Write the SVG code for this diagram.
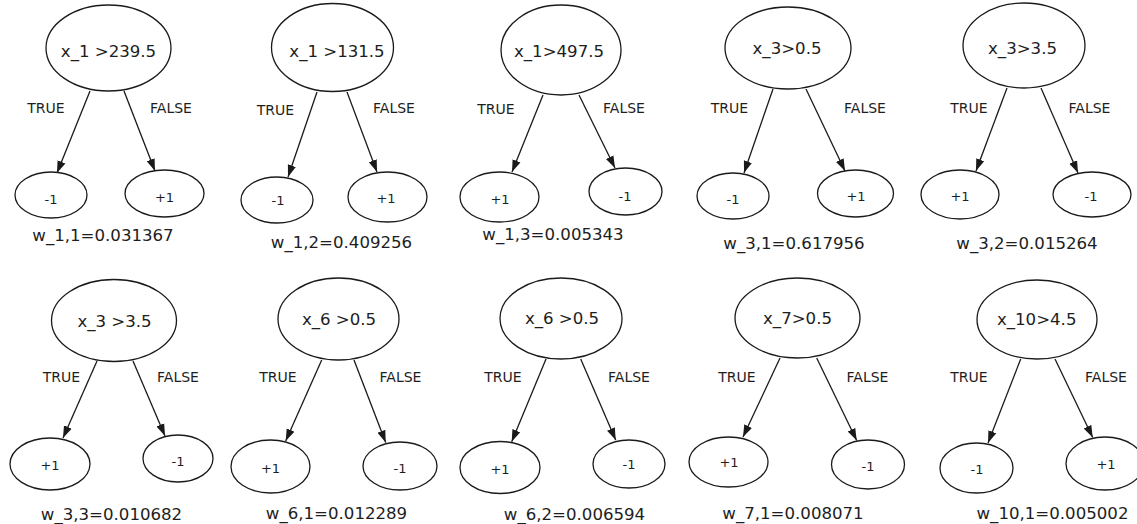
<svg xmlns="http://www.w3.org/2000/svg" width="1137" height="524" viewBox="0 0 1137 524">
<style>
text{font-family:"DejaVu Sans","Liberation Sans",sans-serif;fill:#1e1e1e;text-anchor:middle}
ellipse{fill:#fff;stroke:#1a1a1a;stroke-width:1.3}
.n{font-size:16.6px}
.l{font-size:13px}
.e{font-size:14px}
.w{font-size:16.6px}
#edges line{stroke:#1a1a1a;stroke-width:1.3;marker-end:url(#ah)}
</style>
<defs>
<marker id="ah" markerUnits="userSpaceOnUse" markerWidth="12" markerHeight="10" viewBox="0 0 12 10" refX="12" refY="5" orient="auto">
<path d="M0,0.8 L12,5 L0,9.2 Z" fill="#1a1a1a"/>
</marker>
</defs>
<g id="edges">
<line x1="90" y1="91" x2="57" y2="173"/>
<line x1="124" y1="91" x2="155" y2="171"/>
<line x1="317" y1="92" x2="288" y2="177"/>
<line x1="347" y1="92" x2="377" y2="172"/>
<line x1="543" y1="95" x2="512" y2="172"/>
<line x1="579" y1="95" x2="615" y2="168"/>
<line x1="773" y1="89" x2="744" y2="173"/>
<line x1="806" y1="89" x2="845" y2="171"/>
<line x1="1007" y1="88" x2="976" y2="171"/>
<line x1="1041" y1="88" x2="1078" y2="173"/>
<line x1="97" y1="361" x2="63" y2="438"/>
<line x1="133" y1="361" x2="165" y2="436"/>
<line x1="321.7" y1="360" x2="285.7" y2="441"/>
<line x1="354" y1="360" x2="385.7" y2="442.5"/>
<line x1="546" y1="359" x2="511.7" y2="441.7"/>
<line x1="580.7" y1="359" x2="615.7" y2="440"/>
<line x1="780" y1="358" x2="743" y2="437"/>
<line x1="816.7" y1="358" x2="856.7" y2="440.5"/>
<line x1="1020.7" y1="359" x2="988" y2="443"/>
<line x1="1055" y1="359" x2="1092.7" y2="437.5"/>
</g>
<g id="edge-labels">
<text class="e" x="46" y="113">TRUE</text><text class="e" x="171" y="113">FALSE</text>
<text class="e" x="275.5" y="115">TRUE</text><text class="e" x="394" y="113">FALSE</text>
<text class="e" x="496" y="114">TRUE</text><text class="e" x="624" y="113">FALSE</text>
<text class="e" x="729.5" y="113">TRUE</text><text class="e" x="865" y="113">FALSE</text>
<text class="e" x="969" y="113">TRUE</text><text class="e" x="1089.5" y="113">FALSE</text>
<text class="e" x="61.5" y="382">TRUE</text><text class="e" x="178" y="382">FALSE</text>
<text class="e" x="278" y="382">TRUE</text><text class="e" x="400.5" y="382">FALSE</text>
<text class="e" x="503" y="382">TRUE</text><text class="e" x="629" y="382">FALSE</text>
<text class="e" x="737" y="382">TRUE</text><text class="e" x="867.5" y="382">FALSE</text>
<text class="e" x="969" y="382">TRUE</text><text class="e" x="1106" y="382">FALSE</text>
</g>
<!-- Tree 1 -->
<g id="t1-root"><ellipse cx="108.5" cy="48" rx="62.5" ry="43"/><text class="n" x="108.5" y="57">x_1 &gt;239.5</text></g>
<g id="t1-true"><ellipse cx="51" cy="195" rx="36" ry="23"/><text class="l" x="51" y="204">-1</text></g>
<g id="t1-false"><ellipse cx="164.5" cy="193.5" rx="39.5" ry="23.5"/><text class="l" x="164.5" y="202">+1</text></g>
<g id="t1-weight"><text class="w" x="103" y="241">w_1,1=0.031367</text></g>
<!-- Tree 2 -->
<g id="t2-root"><ellipse cx="332.5" cy="47.5" rx="61" ry="44"/><text class="n" x="337" y="57">x_1 &gt;131.5</text></g>
<g id="t2-true"><ellipse cx="277" cy="200" rx="36" ry="23"/><text class="l" x="278" y="205">-1</text></g>
<g id="t2-false"><ellipse cx="387.5" cy="197" rx="39.5" ry="25"/><text class="l" x="386" y="203">+1</text></g>
<g id="t2-weight"><text class="w" x="341.5" y="248">w_1,2=0.409256</text></g>
<!-- Tree 3 -->
<g id="t3-root"><ellipse cx="561" cy="50" rx="60" ry="45"/><text class="n" x="559" y="57">x_1&gt;497.5</text></g>
<g id="t3-true"><ellipse cx="499.5" cy="197" rx="39.5" ry="25"/><text class="l" x="500" y="204">+1</text></g>
<g id="t3-false"><ellipse cx="625.5" cy="191.5" rx="36.5" ry="23.5"/><text class="l" x="625" y="201">-1</text></g>
<g id="t3-weight"><text class="w" x="553" y="240">w_1,3=0.005343</text></g>
<!-- Tree 4 -->
<g id="t4-root"><ellipse cx="788" cy="48" rx="63" ry="41"/><text class="n" x="787" y="54">x_3&gt;0.5</text></g>
<g id="t4-true"><ellipse cx="733" cy="196" rx="36" ry="23"/><text class="l" x="733" y="204">-1</text></g>
<g id="t4-false"><ellipse cx="855.5" cy="193.5" rx="38" ry="23.5"/><text class="l" x="856" y="201">+1</text></g>
<g id="t4-weight"><text class="w" x="794" y="249">w_3,1=0.617956</text></g>
<!-- Tree 5 -->
<g id="t5-root"><ellipse cx="1024" cy="45.5" rx="61" ry="42.5"/><text class="n" x="1022.5" y="54">x_3&gt;3.5</text></g>
<g id="t5-true"><ellipse cx="960" cy="194.5" rx="39" ry="24.5"/><text class="l" x="960" y="201">+1</text></g>
<g id="t5-false"><ellipse cx="1092" cy="194.5" rx="39" ry="22.5"/><text class="l" x="1091" y="201">-1</text></g>
<g id="t5-weight"><text class="w" x="1027" y="249">w_3,2=0.015264</text></g>
<!-- Tree 6 -->
<g id="t6-root"><ellipse cx="114" cy="320.5" rx="62.5" ry="41"/><text class="n" x="114.5" y="327">x_3 &gt;3.5</text></g>
<g id="t6-true"><ellipse cx="50" cy="464" rx="40" ry="26"/><text class="l" x="50" y="470">+1</text></g>
<g id="t6-false"><ellipse cx="178" cy="458.5" rx="35" ry="23.5"/><text class="l" x="178" y="466">-1</text></g>
<g id="t6-weight"><text class="w" x="111.5" y="520">w_3,3=0.010682</text></g>
<!-- Tree 7 -->
<g id="t7-root"><ellipse cx="338.5" cy="319" rx="60.5" ry="41"/><text class="n" x="339" y="325">x_6 &gt;0.5</text></g>
<g id="t7-true"><ellipse cx="270.5" cy="466.5" rx="39.5" ry="26.5"/><text class="l" x="270.5" y="473">+1</text></g>
<g id="t7-false"><ellipse cx="400" cy="466" rx="37" ry="24"/><text class="l" x="400" y="473">-1</text></g>
<g id="t7-weight"><text class="w" x="336.5" y="519">w_6,1=0.012289</text></g>
<!-- Tree 8 -->
<g id="t8-root"><ellipse cx="561" cy="318.5" rx="61" ry="40.5"/><text class="n" x="562" y="324">x_6 &gt;0.5</text></g>
<g id="t8-true"><ellipse cx="500" cy="467.5" rx="40" ry="26"/><text class="l" x="500" y="474">+1</text></g>
<g id="t8-false"><ellipse cx="629" cy="464" rx="36" ry="24"/><text class="l" x="629" y="469">-1</text></g>
<g id="t8-weight"><text class="w" x="574.5" y="520">w_6,2=0.006594</text></g>
<!-- Tree 9 -->
<g id="t9-root"><ellipse cx="797.5" cy="318" rx="62.5" ry="40"/><text class="n" x="797.5" y="324">x_7&gt;0.5</text></g>
<g id="t9-true"><ellipse cx="728.5" cy="462" rx="39.5" ry="25"/><text class="l" x="729" y="467">+1</text></g>
<g id="t9-false"><ellipse cx="868" cy="464.5" rx="36.5" ry="24.5"/><text class="l" x="868" y="471">-1</text></g>
<g id="t9-weight"><text class="w" x="793" y="519">w_7,1=0.008071</text></g>
<!-- Tree 10 -->
<g id="t10-root"><ellipse cx="1037" cy="319.5" rx="60" ry="39.5"/><text class="n" x="1036.7" y="325">x_10&gt;4.5</text></g>
<g id="t10-true"><ellipse cx="976.5" cy="468" rx="36.5" ry="25"/><text class="l" x="977" y="474">-1</text></g>
<g id="t10-false"><ellipse cx="1105" cy="463.5" rx="39" ry="26.5"/><text class="l" x="1106" y="469">+1</text></g>
<g id="t10-weight"><text class="w" x="1052.5" y="519">w_10,1=0.005002</text></g>
</svg>
